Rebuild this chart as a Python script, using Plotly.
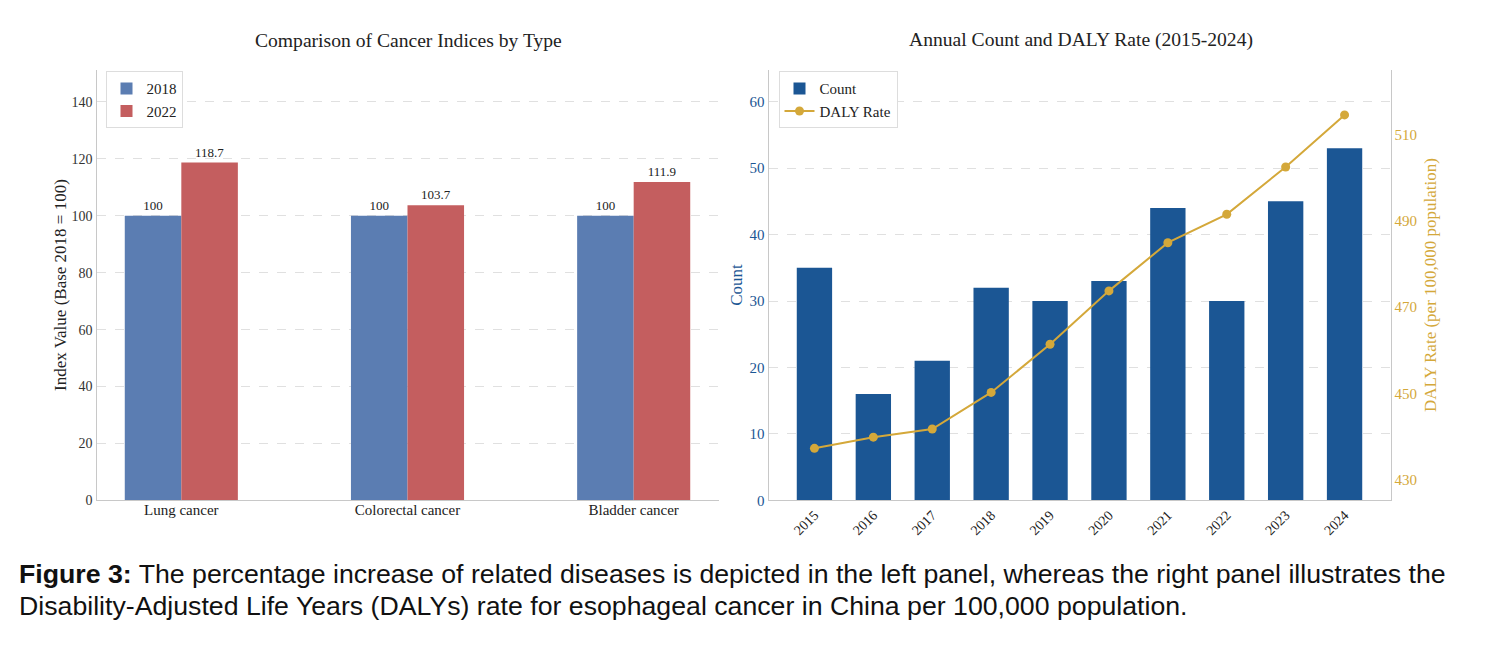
import plotly.graph_objects as go

# ---- data ----
cancer_types = ["Lung cancer", "Colorectal cancer", "Bladder cancer"]
index_2018 = [100, 100, 100]
index_2022 = [118.7, 103.7, 111.9]

years = ["2015", "2016", "2017", "2018", "2019", "2020", "2021", "2022", "2023", "2024"]
counts = [35, 16, 21, 32, 30, 33, 44, 30, 45, 53]
daly_rate = [437.2, 439.8, 441.7, 450.2, 461.4, 473.8, 485.0, 491.6, 502.6, 514.7]

W, H = 1492, 654
OFFX = 7.5  # page offset compensation
SERIF = "Liberation Serif"
C2018 = "#5b7db2"
C2022 = "#c45e5f"
CBAR = "#1b5694"
CLINE = "#d4a83a"
SPINE = "#c8c8c8"
GRID = "#e0e0e0"

def px_x(p):
    return (p - OFFX) / W

def px_y(p):
    return 1 - p / H

fig = go.Figure()

xl = list(range(len(cancer_types)))
fig.add_trace(go.Bar(
    x=[i - 0.125 for i in xl], y=index_2018, width=0.25, name="2018",
    marker=dict(color=C2018, line=dict(width=0)),
    text=[f"{v:g}" for v in index_2018], textposition="outside",
    textfont=dict(family=SERIF, size=13, color="#222"), cliponaxis=False,
    xaxis="x", yaxis="y", legend="legend"))
fig.add_trace(go.Bar(
    x=[i + 0.125 for i in xl], y=index_2022, width=0.25, name="2022",
    marker=dict(color=C2022, line=dict(width=0)),
    text=[f"{v:g}" for v in index_2022], textposition="outside",
    textfont=dict(family=SERIF, size=13, color="#222"), cliponaxis=False,
    xaxis="x", yaxis="y", legend="legend"))

xr = list(range(len(years)))
fig.add_trace(go.Bar(
    x=xr, y=counts, width=0.6, name="Count",
    marker=dict(color=CBAR, line=dict(width=0)),
    xaxis="x2", yaxis="y2", legend="legend2"))
fig.add_trace(go.Scatter(
    x=xr, y=daly_rate, name="DALY Rate", mode="lines+markers",
    line=dict(color=CLINE, width=2), marker=dict(color=CLINE, size=9),
    xaxis="x2", yaxis="y3", legend="legend2"))

ydom = [px_y(498.5), px_y(62.5)]

fig.update_layout(
    width=W, height=H,
    margin=dict(l=0, r=0, t=0, b=0),
    paper_bgcolor="white", plot_bgcolor="white",
    barmode="overlay",
    font=dict(family=SERIF, color="#222"),
    xaxis=dict(domain=[px_x(96), px_x(718)], range=[-0.375, 2.375],
               tickvals=xl, ticktext=cancer_types,
               tickfont=dict(family=SERIF, size=15, color="#222"),
               showline=True, linecolor=SPINE, linewidth=1.2,
               showgrid=False, zeroline=False, ticks="", ticklabelstandoff=-5),
    yaxis=dict(domain=ydom, range=[0, 151.3], tickvals=[0, 20, 40, 60, 80, 100, 120, 140],
               tickfont=dict(family=SERIF, size=14, color="#333"),
               showline=True, linecolor=SPINE, linewidth=1.2,
               showgrid=True, gridcolor=GRID, griddash="dash", gridwidth=1,
               zeroline=False, ticks="",
               title=dict(text="Index Value (Base 2018 = 100)",
                          font=dict(family=SERIF, size=17, color="#222"), standoff=0)),
    xaxis2=dict(domain=[px_x(768), px_x(1390)], range=[-0.78, 9.78],
                tickvals=xr, ticktext=years, tickangle=-45,
                tickfont=dict(family=SERIF, size=14, color="#222"),
                showline=True, linecolor=SPINE, linewidth=1.2, showgrid=False,
                zeroline=False, ticks=""),
    yaxis2=dict(domain=ydom, anchor="x2", range=[0, 64.8],
                tickvals=[0, 10, 20, 30, 40, 50, 60],
                tickfont=dict(family=SERIF, size=15, color=CBAR),
                showline=True, linecolor=SPINE, linewidth=1.2,
                showgrid=True, gridcolor=GRID, griddash="dash", gridwidth=1,
                zeroline=False, ticks="",
                title=dict(text="Count", font=dict(family=SERIF, size=17, color=CBAR),
                           standoff=2)),
    yaxis3=dict(overlaying="y2", side="right", anchor="x2", range=[425.1, 525.2],
                tickvals=[430, 450, 470, 490, 510],
                tickfont=dict(family=SERIF, size=15, color=CLINE),
                showline=True, linecolor=SPINE, linewidth=1.2, showgrid=False,
                zeroline=False, ticks="",
                title=dict(text="DALY Rate (per 100,000 population)",
                           font=dict(family=SERIF, size=17, color=CLINE), standoff=8)),
    legend=dict(x=px_x(105), y=px_y(64), xanchor="left", yanchor="top",
                bgcolor="white", bordercolor="#dddddd", borderwidth=1,
                font=dict(family=SERIF, size=15, color="#222"),
                itemwidth=30, tracegroupgap=0),
    legend2=dict(x=px_x(778), y=px_y(64), xanchor="left", yanchor="top",
                 bgcolor="white", bordercolor="#dddddd", borderwidth=1,
                 font=dict(family=SERIF, size=15, color="#222"),
                 itemwidth=30, tracegroupgap=0),
    annotations=[
        dict(text="Comparison of Cancer Indices by Type", x=px_x(408), y=px_y(32.5),
             xref="paper", yref="paper", showarrow=False, xanchor="center", yanchor="middle",
             font=dict(family=SERIF, size=19.6, color="#222")),
        dict(text="Annual Count and DALY Rate (2015-2024)", x=px_x(1080), y=px_y(32.5),
             xref="paper", yref="paper", showarrow=False, xanchor="center", yanchor="middle",
             font=dict(family=SERIF, size=19.6, color="#222")),
        dict(text="<b>Figure 3:</b> The percentage increase of related diseases is depicted in the left panel, whereas the right panel illustrates the",
             x=px_x(16), y=px_y(573.5), xref="paper", yref="paper", showarrow=False,
             xanchor="left", yanchor="middle",
             font=dict(family="Liberation Sans", size=26.7, color="#111")),
        dict(text="Disability-Adjusted Life Years (DALYs) rate for esophageal cancer in China per 100,000 population.",
             x=px_x(16), y=px_y(605.5), xref="paper", yref="paper", showarrow=False,
             xanchor="left", yanchor="middle",
             font=dict(family="Liberation Sans", size=26.7, color="#111")),
    ],
)

fig.write_html("out.html")
